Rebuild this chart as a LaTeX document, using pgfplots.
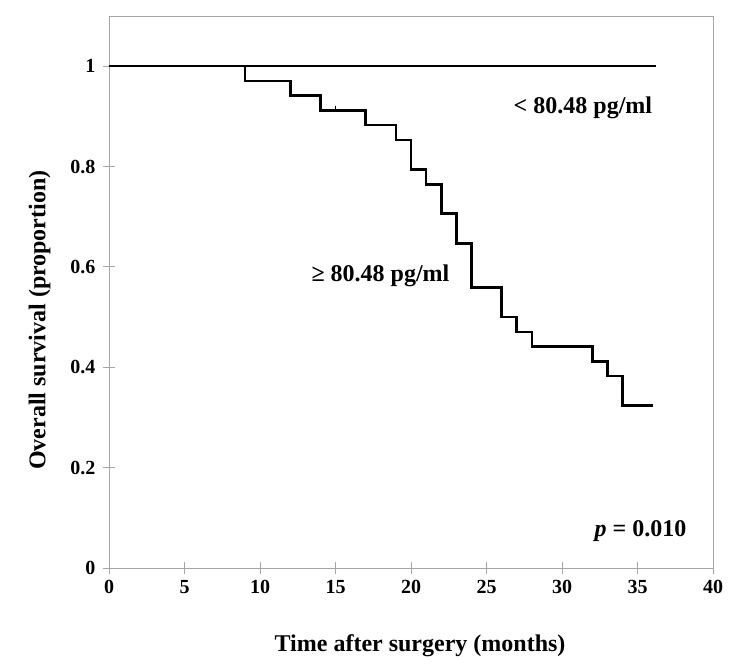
\documentclass[border=0pt]{standalone}
\usepackage{pgfplots}
\pgfplotsset{compat=1.18}
\usepackage{fontspec}
\setmainfont{Liberation Serif}
\begin{document}
\begin{tikzpicture}
\path (0pt,0pt) rectangle (735pt,670pt);
\begin{axis}[
  at={(109pt,102pt)}, anchor=south west,
  width=604pt, height=552pt, scale only axis,
  xmin=0, xmax=40, ymin=0, ymax=1.1,
  xtick={0,5,...,40}, ytick={0,0.2,0.4,0.6,0.8,1},
  axis x line*=bottom, axis y line*=left,
  axis line style={draw=black!35, line width=0.9pt},
  every outer x axis line/.append style={-}, every outer y axis line/.append style={-},
  tick style={draw=black!35, line width=0.9pt},
  tick align=center, major tick length=12pt,
  /pgf/number format/assume math mode=true,
  ticklabel style={font=\fontsize{20}{20}\selectfont\bfseries},
  xticklabel style={yshift=-3pt},
  yticklabel style={xshift=-4pt},
  xlabel={Time after surgery (months)},
  ylabel={Overall survival (proportion)},
  label style={font=\fontsize{24}{24}\selectfont\bfseries},
  xlabel style={at={(axis description cs:0.515,-0.14)}, anchor=center},
  ylabel style={at={(axis description cs:-0.115,0.449)}, anchor=center, rotate=0},
  clip=false,
]
\draw[draw=black!35, line width=0.9pt] (axis cs:0,1.1) -- (axis cs:40,1.1) -- (axis cs:40,0);
\addplot[black, line width=2.6pt, const plot] coordinates {
(0,1) (36.2,1)};
\addplot[black, line width=2.6pt, const plot] coordinates {
(0,1) (9,0.9706) (12,0.9412) (14,0.9118) (17,0.8824) (19,0.8529) (20,0.7941)
(21,0.7647) (22,0.7059) (23,0.6471) (24,0.5588) (26,0.5) (27,0.4706)
(28,0.4412) (32,0.4118) (33,0.3824) (34,0.3235) (36,0.3235)};
\addplot[black, line width=1.5pt, only marks, mark=|, mark size=2.5pt] coordinates {(15.0,0.916)};
\node[anchor=base east, font=\fontsize{24}{24}\selectfont\bfseries] at (axis cs:36.2,0.906) {< 80.48 pg/ml};
\node[anchor=base west, font=\fontsize{24}{24}\selectfont\bfseries] at (axis cs:13.18,0.570) {≥ 80.48 pg/ml};
\node[anchor=base east, font=\fontsize{24}{24}\selectfont\bfseries] at (axis cs:38.47,0.062) {\textit{p} = 0.010};
\end{axis}
\end{tikzpicture}
\end{document}
